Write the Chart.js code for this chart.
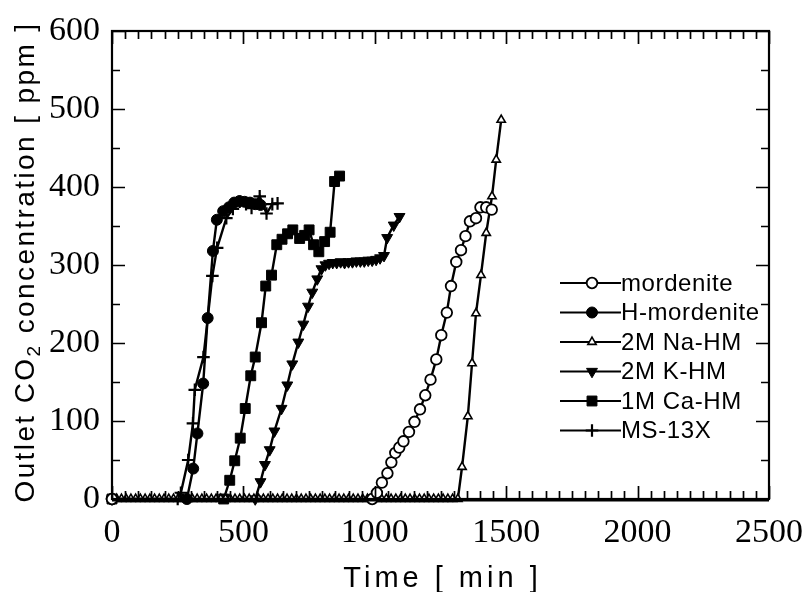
<!DOCTYPE html>
<html>
<head>
<meta charset="utf-8">
<title>Outlet CO2 breakthrough curves</title>
<script src="https://cdn.jsdelivr.net/npm/chart.js@4.4.0/dist/chart.umd.min.js"></script>
<style>
  html, body { margin: 0; padding: 0; background: #fff; }
  #wrap { width: 809px; height: 592px; }
</style>
</head>
<body>
<div id="wrap"><canvas id="chart" width="809" height="592"></canvas></div>
<script>
// values: time [min] and outlet CO2 [ppm]
const seriesNames = ['mordenite', 'H-mordenite', '2M Na-HM', '2M K-HM', '1M Ca-HM', 'MS-13X'];

const mordeniteTime = [0, 990, 1008, 1027, 1048, 1063, 1078, 1093, 1109, 1130, 1151, 1172, 1192, 1212, 1234, 1253, 1274, 1290, 1310, 1328, 1345, 1362, 1385, 1402, 1424, 1445];
const mordenitePpm  = [0, 0, 8, 21, 33, 47, 59, 66, 74, 86, 99, 115, 133, 153, 179, 210, 239, 273, 304, 319, 337, 356, 360, 374, 374, 371];

const hMordeniteTime = [0, 285, 309, 325, 347, 364, 384, 399, 423, 445, 465, 485, 505, 525, 545, 565];
const hMordenitePpm  = [0, 0, 39, 84, 148, 232, 318, 358, 369, 374, 380, 382, 381, 380, 378, 377];

const naHmTime = [0, 18, 36, 54, 72, 90, 108, 126, 144, 162, 180, 198, 216, 234, 252, 270, 288, 306, 324, 342,
  360, 378, 396, 414, 432, 450, 468, 486, 504, 522, 540, 558, 576, 594, 612, 630, 648, 666, 684, 702,
  720, 738, 756, 774, 792, 810, 828, 846, 864, 882, 900, 918, 936, 954, 972, 990, 1008, 1026, 1044, 1062,
  1080, 1098, 1116, 1134, 1152, 1170, 1188, 1206, 1224, 1242, 1260, 1278, 1296, 1316,
  1332, 1354, 1370, 1385, 1404, 1424, 1446, 1462, 1481];
const naHmPpm  = [0, 0, 0, 0, 0, 0, 0, 0, 0, 0, 0, 0, 0, 0, 0, 0, 0, 0, 0, 0,
  0, 0, 0, 0, 0, 0, 0, 0, 0, 0, 0, 0, 0, 0, 0, 0, 0, 0, 0, 0,
  0, 0, 0, 0, 0, 0, 0, 0, 0, 0, 0, 0, 0, 0, 0, 0, 0, 0, 0, 0,
  0, 0, 0, 0, 0, 0, 0, 0, 0, 0, 0, 0, 0, 0,
  41, 106, 174, 238, 287, 341, 388, 435, 486];

const kHmTime = [0, 545, 565, 582, 600, 618, 645, 667, 686, 709, 728, 746, 762, 781, 797, 812, 826, 840, 855, 870,
  885, 900, 915, 930, 945, 960, 975, 990, 1005, 1020, 1035, 1047, 1072, 1094];
const kHmPpm  = [0, 0, 22, 44, 63, 87, 116, 146, 173, 201, 224, 247, 265, 282, 295, 300, 302, 303, 303, 304,
  303, 304, 304, 305, 305, 305, 306, 306, 307, 309, 312, 335, 351, 362];

const caHmTime = [0, 425, 448, 467, 488, 507, 528, 545, 569, 585, 607, 627, 647, 668, 688, 714, 733, 750, 767, 787, 809, 830, 847, 866];
const caHmPpm  = [0, 0, 24, 49, 78, 116, 158, 182, 226, 273, 287, 326, 333, 340, 345, 334, 338, 345, 326, 317, 330, 342, 407, 414];

const ms13xTime = [0, 250, 262, 290, 308, 315, 348, 382, 400, 435, 460, 486, 510, 531, 562, 588, 610, 630];
const ms13xPpm  = [0, 0, 8, 50, 97, 140, 182, 286, 322, 360, 372, 381, 378, 373, 388, 366, 378, 379];

const xTicks = [0, 500, 1000, 1500, 2000, 2500];
const yTicks = [0, 100, 200, 300, 400, 500, 600];

const toPoints = (xs, ys) => xs.map((t, i) => ({ x: t, y: ys[i] }));

const markerStyles = [
  { pointStyle: 'circle', radius: 5.3, rotation: 0, fill: '#fff', border: 1.8 },
  { pointStyle: 'circle', radius: 5.5, rotation: 0, fill: '#000', border: 1 },
  { pointStyle: 'triangle', radius: 4.8, rotation: 0, fill: '#fff', border: 1.6 },
  { pointStyle: 'triangle', radius: 6.3, rotation: 180, fill: '#000', border: 1 },
  { pointStyle: 'rect', radius: 7, rotation: 0, fill: '#000', border: 1 },
  { pointStyle: 'cross', radius: 6.3, rotation: 0, fill: '#000', border: 2.2 }
];

const seriesData = [
  toPoints(mordeniteTime, mordenitePpm),
  toPoints(hMordeniteTime, hMordenitePpm),
  toPoints(naHmTime, naHmPpm),
  toPoints(kHmTime, kHmPpm),
  toPoints(caHmTime, caHmPpm),
  toPoints(ms13xTime, ms13xPpm)
];

const datasets = seriesNames.map((name, i) => ({
  label: name,
  data: seriesData[i],
  borderColor: '#000',
  borderWidth: 2.4,
  tension: 0,
  clip: false,
  pointStyle: markerStyles[i].pointStyle,
  pointRadius: markerStyles[i].radius,
  pointRotation: markerStyles[i].rotation,
  pointBackgroundColor: markerStyles[i].fill,
  pointBorderColor: '#000',
  pointBorderWidth: markerStyles[i].border
}));

const drawMarker = (ctx, st, x, y) => {
  ctx.fillStyle = st.fill;
  ctx.strokeStyle = '#000';
  ctx.lineWidth = st.border;
  if (window.Chart && Chart.helpers && Chart.helpers.drawPoint) {
    Chart.helpers.drawPoint(ctx, { pointStyle: st.pointStyle, radius: st.radius, rotation: st.rotation, borderWidth: st.border }, x, y);
    return;
  }
  ctx.beginPath();
  ctx.arc(x, y, st.radius, 0, Math.PI * 2);
  ctx.fill();
  ctx.stroke();
};

// frame with inward ticks on all four sides
const frameTicks = {
  id: 'frameTicks',
  afterDatasetsDraw(chart) {
    const { ctx, chartArea: a, scales: { x, y } } = chart;
    ctx.save();
    ctx.strokeStyle = '#000';
    ctx.lineWidth = 2.2;
    ctx.strokeRect(a.left, a.top, a.right - a.left, a.bottom - a.top);
    // the baseline of the scan is heavier
    ctx.lineWidth = 3;
    ctx.beginPath();
    ctx.moveTo(a.left, a.bottom + 1);
    ctx.lineTo(a.right, a.bottom + 1);
    ctx.stroke();
    ctx.lineWidth = 1.7;
    ctx.beginPath();
    for (let v = 0; v <= 2500; v += 50) {
      const px = Math.round(x.getPixelForValue(v)) + 0.5;
      const len = v % 500 === 0 ? 13 : 8;
      ctx.moveTo(px, a.bottom); ctx.lineTo(px, a.bottom - len);
      ctx.moveTo(px, a.top); ctx.lineTo(px, a.top + len);
    }
    for (let v = 0; v <= 600; v += 50) {
      const py = Math.round(y.getPixelForValue(v)) + 0.5;
      const len = v % 100 === 0 ? 13 : 8;
      ctx.moveTo(a.left, py); ctx.lineTo(a.left + len, py);
      ctx.moveTo(a.right, py); ctx.lineTo(a.right - len, py);
    }
    ctx.stroke();
    ctx.restore();
  },
  afterDraw(chart) {
    const { ctx, chartArea: a } = chart;
    ctx.save();
    ctx.fillStyle = '#000';

    // x title
    ctx.font = '29px "Liberation Sans", Arial, sans-serif';
    ctx.letterSpacing = '4px';
    ctx.textAlign = 'center';
    ctx.textBaseline = 'alphabetic';
    ctx.fillText('Time [ min ]', (a.left + a.right) / 2 + 2, 587);

    // y title with subscript
    ctx.textAlign = 'left';
    ctx.letterSpacing = '2.4px';
    const big = '28px "Liberation Sans", Arial, sans-serif';
    const small = '19px "Liberation Sans", Arial, sans-serif';
    const partA = 'Outlet CO';
    const partB = '2';
    const partC = ' concentration [ ppm ]';
    ctx.font = big;
    const wA = ctx.measureText(partA).width;
    const wC = ctx.measureText(partC).width;
    ctx.font = small;
    const wB = ctx.measureText(partB).width;
    const total = wA + wB + wC;
    ctx.translate(34, 262);
    ctx.rotate(-Math.PI / 2);
    let cx = -total / 2;
    ctx.font = big;
    ctx.fillText(partA, cx, 0);
    cx += wA;
    ctx.font = small;
    ctx.fillText(partB, cx, 6);
    cx += wB;
    ctx.font = big;
    ctx.fillText(partC, cx, 0);
    ctx.restore();

    // legend inside the plot
    ctx.save();
    ctx.font = '24px "Liberation Sans", Arial, sans-serif';
    ctx.letterSpacing = '0.6px';
    ctx.textBaseline = 'middle';
    ctx.textAlign = 'left';
    seriesNames.forEach((name, i) => {
      const ly = 283 + i * 29.5;
      ctx.strokeStyle = '#000';
      ctx.lineWidth = 2.2;
      ctx.beginPath();
      ctx.moveTo(560, ly);
      ctx.lineTo(621, ly);
      ctx.stroke();
      drawMarker(ctx, markerStyles[i], 592, ly);
      ctx.fillStyle = '#000';
      ctx.fillText(name, 621, ly + 1);
    });
    ctx.restore();
  }
};

new Chart(document.getElementById('chart'), {
  type: 'line',
  data: { datasets },
  plugins: [frameTicks],
  options: {
    responsive: false,
    animation: false,
    devicePixelRatio: 1,
    layout: { padding: { left: 0, top: 31, right: 39, bottom: 0 } },
    plugins: {
      legend: { display: false },
      tooltip: { enabled: false }
    },
    scales: {
      x: {
        type: 'linear',
        min: 0,
        max: 2500,
        afterFit: (scale) => { scale.height = 93; },
        afterBuildTicks: (scale) => { scale.ticks = xTicks.map(v => ({ value: v })); },
        grid: { display: false },
        border: { display: false },
        ticks: {
          autoSkip: false,
          maxRotation: 0,
          padding: 6,
          color: '#000',
          callback: (v) => String(v),
          font: { family: '"Liberation Serif", "Times New Roman", serif', size: 34 }
        }
      },
      y: {
        type: 'linear',
        min: 0,
        max: 600,
        afterFit: (scale) => { scale.width = 112; },
        afterBuildTicks: (scale) => { scale.ticks = yTicks.map(v => ({ value: v })); },
        grid: { display: false },
        border: { display: false },
        ticks: {
          padding: 4,
          color: '#000',
          callback: (v) => String(v),
          font: { family: '"Liberation Serif", "Times New Roman", serif', size: 34 }
        }
      }
    }
  }
});
</script>
</body>
</html>
